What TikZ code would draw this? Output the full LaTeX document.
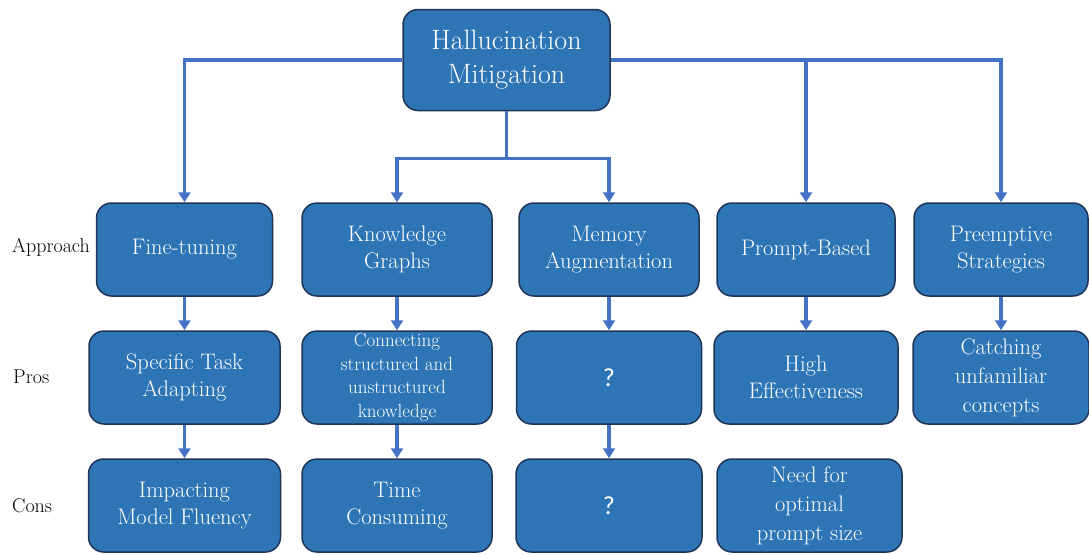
\documentclass[tikz,border=0pt]{standalone}
\usepackage{fontspec}
\newfontfamily\qfont{Carlito}
\usetikzlibrary{arrows.meta}
\definecolor{boxblue}{HTML}{2E75B6}
\definecolor{boxline}{HTML}{1F3557}
\definecolor{linkblue}{HTML}{4472C4}

\begin{document}
\begin{tikzpicture}[x=1pt,y=-1pt,
    box/.style={draw=boxline,line width=1.5pt,fill=boxblue,rounded corners=15pt,
        text=white,align=center,inner sep=0pt,minimum height=93pt,
        font=\fontsize{22.5}{26.5}\selectfont},
    link/.style={draw=linkblue,line width=3.5pt,-{Triangle[width=12pt,length=10pt]}},
    rowlabel/.style={anchor=west,inner sep=0pt,font=\fontsize{20}{24}\selectfont}]
    \useasboundingbox (0,0) rectangle (1089,554);

    \node [box,minimum width=207pt,minimum height=101pt,font=\fontsize{28}{34}\selectfont]
        (top) at (506.5,60) {Hallucination\\Mitigation};

    \node [rowlabel] (approach) at (12,247) {Approach};
    \node [rowlabel] (pros) at (13,377) {Pros};
    \node [rowlabel] (cons) at (12,506) {Cons};

    \node [box,minimum width=176pt] (ft)  at (184.5,249.5) {Fine-tuning};
    \node [box,minimum width=190pt] (kg)  at (397,249.5)   {Knowledge\\Graphs};
    \node [box,minimum width=180pt] (mem) at (609,249.5)   {Memory\\Augmentation};
    \node [box,minimum width=178pt] (pb)  at (806,249.5)   {Prompt-Based};
    \node [box,minimum width=174pt] (pre) at (1001,249.5)  {Preemptive\\Strategies};

    \node [box,minimum width=191pt] (ftp)  at (184.5,377.5) {Specific Task\\Adapting};
    \node [box,minimum width=190pt,font=\fontsize{19}{23.5}\selectfont]
        (kgp) at (397,377.5) {Connecting\\structured and\\unstructured\\knowledge};
    \node [box,minimum width=185pt] (memp) at (609,377.5)   {\qfont\fontsize{26}{30}\selectfont ?};
    \node [box,minimum width=184pt] (pbp)  at (806,377.5)   {High\\Effectiveness};
    \node [box,minimum width=176pt,font=\fontsize{22.5}{29}\selectfont]
        (prep) at (1001,377.5) {Catching\\unfamiliar\\concepts};

    \node [box,minimum width=192pt] (ftc)  at (184.5,505.5) {Impacting\\Model Fluency};
    \node [box,minimum width=190pt] (kgc)  at (397,505.5)   {Time\\Consuming};
    \node [box,minimum width=186pt] (memc) at (609,505.5)   {\qfont\fontsize{26}{30}\selectfont ?};
    \node [box,minimum width=185pt,font=\fontsize{22.5}{29}\selectfont]
        (pbc) at (809.5,505.5) {Need for\\optimal\\prompt size};

    \draw [link] (top.west) -| (ft.north);
    \draw [link] (top.east) -| (pb.north);
    \draw [link] (top.east) -| (pre.north);
    \draw [link] (top.south) -- ++(0,47) -| (kg.north);
    \draw [link] (top.south) -- ++(0,47) -| (mem.north);

    \foreach \a/\b in {ft/ftp,kg/kgp,mem/memp,pb/pbp,pre/prep,ftp/ftc,kgp/kgc,memp/memc}
        \draw [link] (\a.south) -- (\b.north);
\end{tikzpicture}
\end{document}
